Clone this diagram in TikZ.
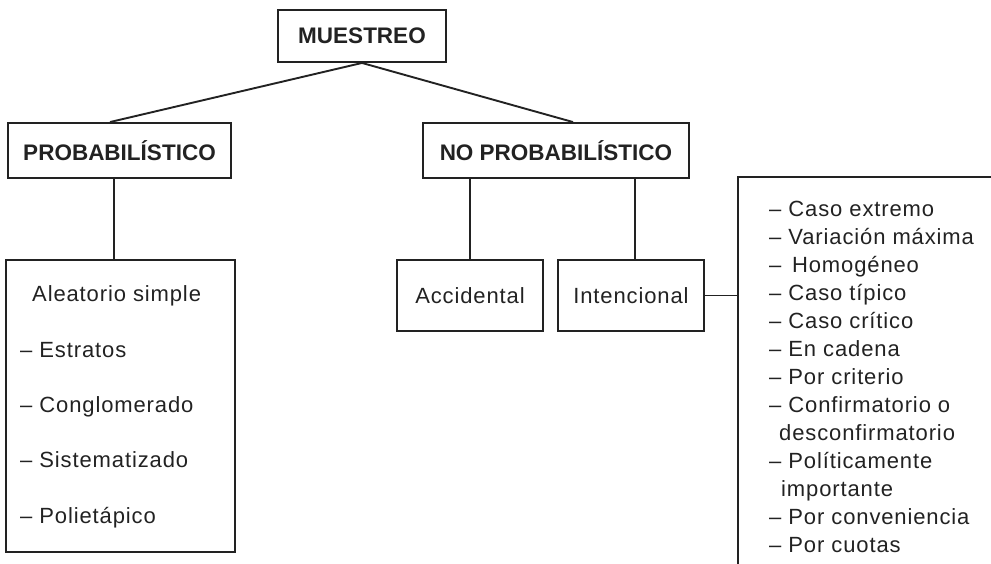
\documentclass[tikz,border=0pt]{standalone}
\usepackage{fontspec}
\setmainfont{Liberation Sans}
\newfontfamily\regfont[LetterSpace=4]{Liberation Sans}
\usetikzlibrary{positioning}
\definecolor{ink}{HTML}{222222}
\tikzset{
  box/.style={draw=ink, line width=1.9pt, rectangle, inner sep=0pt, text=ink},
  head/.style={box, font=\fontsize{22.5}{26}\selectfont\bfseries},
  leaf/.style={box, font=\regfont\fontsize{22}{28}\selectfont},
  link/.style={draw=ink, line width=1.9pt},
  lst/.style={text=ink, inner sep=0pt, align=left, anchor=base west}
}
\begin{document}
\begin{tikzpicture}[x=1pt,y=-1pt]
\useasboundingbox (0,0) rectangle (991,563);
\clip (0,0) rectangle (991,563);
% heads
\node[head, minimum width=168pt, minimum height=52pt] (m) at (362,36) {MUESTREO};
\node[head, minimum width=223pt, minimum height=55pt] (p) at (119.5,150.5) {PROBABILÍSTICO};
\node[head, minimum width=266pt, minimum height=55pt] (np) at (556,150.5) {NO PROBABILÍSTICO};
% leaves
\node[box, minimum width=229pt, minimum height=292pt] (al) at (120.5,406) {};
\node[leaf, minimum width=146pt, minimum height=71pt] (ac) at (470,295.5) {Accidental};
\node[leaf, minimum width=146pt, minimum height=71pt] (in) at (631,295.5) {Intencional};
% left list (anchor = baseline of last line)
\node[lst, font=\regfont\fontsize{22}{55.3}\selectfont] (allist) at (20,523)
  {\hspace{12pt}Aleatorio simple\\ – Estratos\\ – Conglomerado\\ – Sistematizado\\ – Polietápico};
% right bracket
\coordinate (bt) at (738,177);
\coordinate (bb) at (738,570);
\coordinate (br) at (1000,177);
\draw[link] (bb) -- (bt) -- (br);
\node[lst, font=\regfont\fontsize{22}{28}\selectfont] (rlist) at (769,552)
  {– Caso extremo\\ – Variación máxima\\ – \,Homogéneo\\ – Caso típico\\ – Caso crítico\\ – En cadena\\ – Por criterio\\ – Confirmatorio o\\ \hspace{10pt}desconfirmatorio\\ – Políticamente\\ \hspace{12pt}importante\\ – Por conveniencia\\ – Por cuotas};
% connectors
\draw[link] (m.south) -- ([xshift=-9.5pt]p.north);
\draw[link] (m.south) -- ([xshift=17pt]np.north);
\draw[link] (p.south -| 114,0) -- (al.north -| 114,0);
\draw[link] (ac.north) -- (ac.north |- np.south);
\draw[link] ([xshift=4pt]in.north) -- ([xshift=4pt]in.north |- np.south);
\draw[link] (in.east) -- (in.east -| bt);
\end{tikzpicture}
\end{document}
